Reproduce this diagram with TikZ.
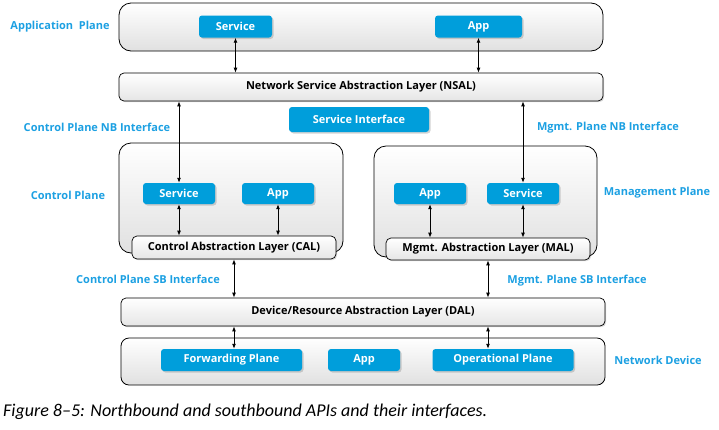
\documentclass[tikz,border=0pt]{standalone}
\usepackage{fontspec}
\setmainfont{Open Sans}
\newfontfamily\capfont[Ligatures=TeX]{Carlito}
\usetikzlibrary{arrows.meta, shadows, positioning}
\definecolor{boxblue}{RGB}{0,158,219}
\definecolor{lblblue}{RGB}{28,160,226}
\tikzset{
  plane/.style={draw, rounded corners=12pt, top color=white, bottom color=black!12, line width=0.8pt, inner sep=0pt},
  layer/.style={draw, rounded corners=5pt, top color=white, bottom color=black!10, line width=0.7pt, inner sep=0pt,
    font=\bfseries\fontsize{11}{13}\selectfont, drop shadow={opacity=0.3, shadow xshift=1.2pt, shadow yshift=-1.2pt}},
  blubox/.style={fill=boxblue, rounded corners=3pt, text=white, inner sep=0pt, minimum height=22pt,
    font=\bfseries\fontsize{11}{13}\selectfont, drop shadow={opacity=0.35, shadow xshift=1.5pt, shadow yshift=-1.5pt}},
  lbl/.style={text=lblblue, font=\bfseries\fontsize{11}{13}\selectfont},
  dbl/.style={{Latex[length=5pt,width=4pt]}-{Latex[length=5pt,width=4pt]}, line width=0.9pt},
}
\begin{document}
\begin{tikzpicture}[x=1pt, y=-1pt]
  \useasboundingbox (0,0) rectangle (719,429);

  % planes
  \node[plane, minimum width=484pt, minimum height=48pt] (applane) at (361,27) {};
  \node[plane, minimum width=224pt, minimum height=110pt] (cplane) at (231,198) {};
  \node[plane, minimum width=223pt, minimum height=111pt] (mplane) at (485.5,201.5) {};
  \node[plane, rounded corners=8pt, minimum width=484pt, minimum height=47pt] (ndev) at (363,361.5) {};

  % abstraction layers
  \node[layer, minimum width=484pt, minimum height=28pt] (nsal) at (361,87) {Network Service Abstraction Layer (NSAL)};
  \node[layer, minimum width=204pt, minimum height=23pt] (cal) at (234,247.5) {Control Abstraction Layer (CAL)};
  \node[layer, minimum width=204pt, minimum height=22pt] (mal) at (488,249) {Mgmt. Abstraction Layer (MAL)};
  \node[layer, minimum width=484pt, minimum height=28pt] (dal) at (363,312) {Device/Resource Abstraction Layer (DAL)};

  % blue boxes
  \node[blubox, minimum width=73pt] (appsvc) at (235.5,26.5) {Service};
  \node[blubox, minimum width=87pt] (appapp) at (478.5,26.5) {App};
  \node[blubox, minimum width=140pt, minimum height=25pt] (svcif) at (359,119.5) {Service Interface};
  \node[blubox, minimum width=72pt, minimum height=21pt] (cpsvc) at (179,193.5) {Service};
  \node[blubox, minimum width=72pt, minimum height=21pt] (cpapp) at (278,193.5) {App};
  \node[blubox, minimum width=72pt, minimum height=21pt] (mpapp) at (430,193.5) {App};
  \node[blubox, minimum width=72pt, minimum height=21pt] (mpsvc) at (523,193.5) {Service};
  \node[blubox, minimum width=141pt] (fwd) at (231.5,360) {Forwarding Plane};
  \node[blubox, minimum width=72pt] (devapp) at (364,360) {App};
  \node[blubox, minimum width=141pt] (opp) at (503,360) {Operational Plane};

  % labels
  \node[lbl] (lapp) at (60,27) {Application\ \ Plane};
  \node[lbl] (lcpnb) at (97,127) {Control Plane NB Interface};
  \node[lbl] (lmpnb) at (608,128) {Mgmt. Plane NB Interface};
  \node[lbl] (lcp) at (68,195) {Control Plane};
  \node[lbl] (lmp) at (657,193) {Management Plane};
  \node[lbl] (lcpsb) at (148,279) {Control Plane SB Interface};
  \node[lbl] (lmpsb) at (577,281) {Mgmt. Plane SB Interface};
  \node[lbl] (ldev) at (658,360) {Network Device};

  % arrows
  \draw[dbl] (appsvc.south) -- (appsvc |- nsal.north);
  \draw[dbl] (appapp.south) -- (appapp |- nsal.north);
  \draw[dbl] (cpsvc |- nsal.south) -- (cpsvc.north);
  \draw[dbl] (mpsvc |- nsal.south) -- (mpsvc.north);
  \draw[dbl] (cpsvc.south) -- (cpsvc |- cal.north);
  \draw[dbl] (cpapp.south) -- (cpapp |- cal.north);
  \draw[dbl] (mpapp.south) -- (mpapp |- mal.north);
  \draw[dbl] (mpsvc.south) -- (mpsvc |- mal.north);
  \draw[dbl] (cal.south) -- (cal |- dal.north);
  \draw[dbl] (mal.south) -- (mal |- dal.north);
  \draw[dbl] (cal |- dal.south) -- (cal |- fwd.north);
  \draw[dbl] (mal |- dal.south) -- (mal |- opp.north);

  % caption
  \node[anchor=west, inner sep=0pt, font=\capfont\itshape\fontsize{18}{20}\selectfont] (cap) at (3,412)
    {Figure 8--5: Northbound and southbound APIs and their interfaces.};
\end{tikzpicture}
\end{document}
